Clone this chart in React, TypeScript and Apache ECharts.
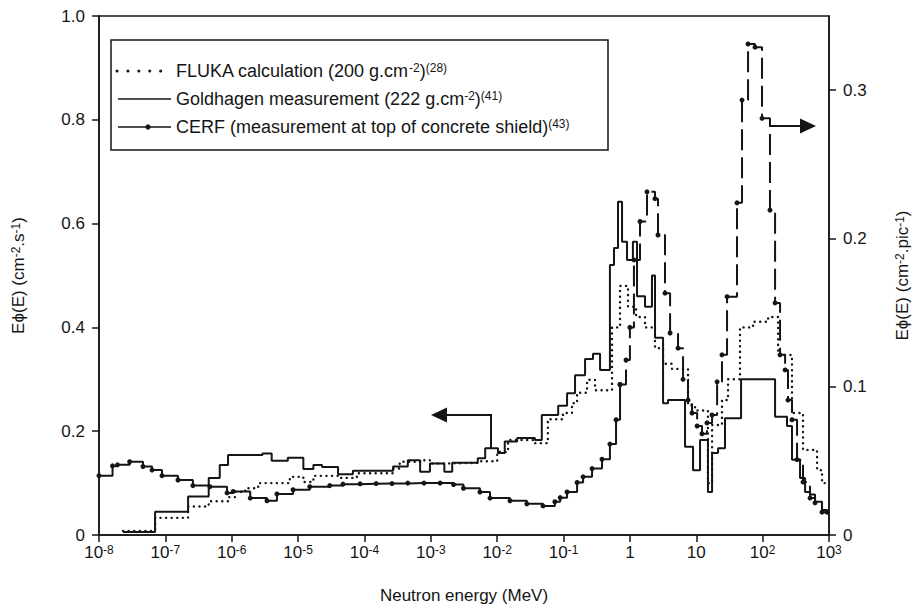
import React, { useEffect, useRef } from 'react';
import * as echarts from 'echarts';

// ---- axis ticks ----
const decades = [1e-8, 1e-7, 1e-6, 1e-5, 1e-4, 1e-3, 1e-2, 1e-1, 1, 10, 100, 1000];
const leftTicks = [0, 0.2, 0.4, 0.6, 0.8, 1.0];
const rightTicks = [0, 0.1, 0.2, 0.3];

// ---- FLUKA calculation (left axis), bin edges in MeV and bin values ----
const flukaEdges = [2.3e-8, 7.0e-8, 2.2e-7, 4.5e-7, 8.8e-7, 1.12e-6, 1.6e-6, 2.5e-6, 7.5e-6, 1.2e-5, 1.7e-5, 4.0e-5, 7.7e-5, 2.7e-4, 3.4e-4, 6.9e-4, 9.7e-4, 2.1e-3, 5.1e-3, 1.0e-2, 1.46e-2, 3.7e-2, 5.8e-2, 9.8e-2, 0.134, 0.16, 0.226, 0.298, 0.538, 0.71, 0.937, 1.24, 1.69, 2.39, 3.16, 4.31, 7.51, 9.58, 15.0, 17.3, 24.4, 30.1, 45.6, 71.7, 121, 171, 277, 406, 661, 785, 934];
const flukaValues = [0.008, 0.033, 0.055, 0.065, 0.073, 0.083, 0.09, 0.1, 0.112, 0.102, 0.114, 0.11, 0.119, 0.128, 0.141, 0.144, 0.138, 0.139, 0.142, 0.16, 0.183, 0.177, 0.223, 0.235, 0.254, 0.274, 0.299, 0.279, 0.4, 0.48, 0.44, 0.42, 0.4, 0.36, 0.33, 0.32, 0.25, 0.24, 0.1, 0.212, 0.26, 0.3, 0.4, 0.411, 0.42, 0.347, 0.235, 0.164, 0.125, 0.1];

// ---- Goldhagen measurement (left axis) ----
const goldEdges = [2.3e-8, 7.0e-8, 2.2e-7, 4.5e-7, 6.6e-7, 8.8e-7, 2.9e-6, 4.0e-6, 7.0e-6, 1.2e-5, 1.7e-5, 2.3e-5, 4.0e-5, 6.7e-5, 2.7e-4, 4.5e-4, 6.9e-4, 9.7e-4, 1.6e-3, 2.1e-3, 5.1e-3, 6.6e-3, 1.03e-2, 1.3e-2, 2.0e-2, 3.7e-2, 4.7e-2, 8.3e-2, 0.113, 0.149, 0.211, 0.278, 0.355, 0.5, 0.576, 0.662, 0.761, 0.905, 1.11, 1.28, 1.69, 2.15, 2.39, 3.16, 3.75, 6.77, 8.94, 11.4, 15.0, 17.3, 21.3, 27.1, 47.3, 154, 233, 277, 366, 436, 518, 616, 785, 934, 1000];
const goldValues = [0.006, 0.045, 0.074, 0.11, 0.135, 0.154, 0.157, 0.143, 0.149, 0.127, 0.135, 0.131, 0.117, 0.124, 0.132, 0.144, 0.122, 0.138, 0.122, 0.139, 0.148, 0.167, 0.158, 0.18, 0.187, 0.183, 0.231, 0.249, 0.273, 0.308, 0.339, 0.349, 0.318, 0.52, 0.553, 0.642, 0.565, 0.53, 0.565, 0.46, 0.44, 0.5, 0.38, 0.254, 0.26, 0.17, 0.125, 0.183, 0.083, 0.158, 0.167, 0.225, 0.3, 0.228, 0.21, 0.145, 0.11, 0.083, 0.078, 0.064, 0.048, 0.042];

// ---- CERF (right axis, cm-2.pic-1) ----
const cerfEdges = [1.0e-8, 1.6e-8, 1.9e-8, 2.9e-8, 4.6e-8, 6.3e-8, 8.9e-8, 1.55e-7, 2.6e-7, 4.7e-7, 8.5e-7, 1.05e-6, 1.9e-6, 3.4e-6, 4.8e-6, 8.4e-6, 1.5e-5, 3.0e-5, 4.75e-5, 8.6e-5, 1.5e-4, 2.6e-4, 4.5e-4, 7.9e-4, 1.38e-3, 2.2e-3, 3.1e-3, 5.5e-3, 7.8e-3, 1.56e-2, 2.8e-2, 4.9e-2, 7.4e-2, 8.9e-2, 0.113, 0.16, 0.197, 0.269, 0.38, 0.5, 0.618, 0.71, 0.874, 1.0, 1.15, 1.42, 1.81, 2.39, 2.65, 3.38, 4.03, 5.31, 6.32, 7.51, 8.63, 10.3, 12.2, 14.5, 17.3, 20.6, 24.4, 29.1, 41.1, 48.9, 60.3, 76.8, 97.9, 129, 154, 183, 218, 241, 277, 330, 406, 518, 616, 785, 934];
const cerfValues = [0.04, 0.0466, 0.0473, 0.0494, 0.0462, 0.0438, 0.04, 0.0371, 0.0333, 0.0326, 0.0284, 0.0294, 0.0249, 0.0231, 0.0277, 0.0305, 0.0326, 0.0333, 0.0343, 0.0345, 0.0347, 0.0347, 0.035, 0.035, 0.035, 0.034, 0.0315, 0.029, 0.0249, 0.0231, 0.021, 0.0196, 0.0224, 0.0252, 0.029, 0.0354, 0.0392, 0.0448, 0.0511, 0.0613, 0.0777, 0.1015, 0.118, 0.14, 0.1855, 0.2114, 0.2314, 0.2268, 0.2023, 0.1631, 0.1362, 0.126, 0.105, 0.091, 0.0823, 0.0735, 0.0683, 0.0756, 0.0809, 0.1033, 0.1215, 0.1607, 0.224, 0.2933, 0.3311, 0.329, 0.281, 0.2191, 0.1565, 0.1215, 0.1113, 0.091, 0.0777, 0.0508, 0.0357, 0.0249, 0.0217, 0.0154];
// above this energy the CERF trace is drawn dashed in the figure
const cerfDashedFrom = 0.7;

const FONT = "'Liberation Sans', Arial, Helvetica, sans-serif";
const INK = '#151515';

function steps(edges: number[], values: number[]) {
  const n = Math.min(values.length, edges.length - 1);
  const pts: number[][] = [];
  for (let i = 0; i < n; i++) pts.push([edges[i], values[i]]);
  pts.push([edges[n], values[n - 1]]);
  return pts;
}

export default function App() {
  const ref = useRef<HTMLDivElement>(null);
  useEffect(() => {
    document.body.style.margin = '0';
    const chart = echarts.init(ref.current!, null, { renderer: 'svg' });
    const sup = { fontSize: 12, verticalAlign: 'top', lineHeight: 12, fontFamily: FONT, color: INK };
    const supG = { fontSize: 12, verticalAlign: 'top', lineHeight: 12, fontFamily: FONT, fill: INK };
    const legendRows = [
      { y: 71, text: 'FLUKA calculation (200 g.cm{sup|-2}){sup|(28)}' },
      { y: 99, text: 'Goldhagen measurement (222 g.cm{sup|-2}){sup|(41)}' },
      { y: 127, text: 'CERF (measurement at top of concrete shield){sup|(43)}' },
    ];
    const cerfPts = steps(cerfEdges, cerfValues);
    let k = cerfPts.findIndex((p) => p[0] >= cerfDashedFrom);
    if (k < 0) k = cerfPts.length - 1;
    const cerfSeries = (data: number[][], dashed: boolean) => ({
      name: 'CERF (measurement at top of concrete shield)',
      type: 'line',
      step: 'end',
      yAxisIndex: 1,
      data,
      symbol: 'circle',
      symbolSize: 5,
      showSymbol: true,
      itemStyle: { color: INK, borderWidth: 0 },
      lineStyle: { color: INK, width: 2, type: dashed ? [21, 7] : 'solid' },
      z: 4,
    });
    const axisLabelBase = { fontFamily: FONT, fontSize: 17, color: INK };
    chart.setOption({
      animation: false,
      backgroundColor: '#ffffff',
      grid: { left: 99, right: 90, top: 16, bottom: 75, show: true, borderColor: INK, borderWidth: 1.5 },
      xAxis: {
        type: 'log',
        logBase: 10,
        min: 1e-8,
        max: 1e3,
        splitNumber: 11,
        name: 'Neutron energy (MeV)',
        nameLocation: 'middle',
        nameGap: 52,
        nameTextStyle: { fontFamily: FONT, fontSize: 17, color: INK },
        axisLine: { lineStyle: { color: INK, width: 1.5 } },
        axisTick: { show: true, length: 7, lineStyle: { color: INK, width: 1.5 }, customValues: decades },
        minorTick: { show: false },
        splitLine: { show: false },
        axisLabel: {
          ...axisLabelBase,
          customValues: decades,
          margin: 9,
          formatter: (v: number) => {
            const e = Math.round(Math.log10(v));
            if (e === 0) return '1';
            if (e === 1) return '10';
            return '10{sup|' + e + '}';
          },
          rich: { sup },
        },
      },
      yAxis: [
        {
          type: 'value',
          position: 'left',
          min: 0,
          max: 1,
          interval: 0.2,
          name: 'E\u03d5(E) (cm{sup|-2}.s{sup|-1})',
          nameLocation: 'middle',
          nameRotate: 90,
          nameGap: 72,
          nameTextStyle: { fontFamily: FONT, fontSize: 17, color: INK, rich: { sup } },
          axisLine: { show: true, lineStyle: { color: INK, width: 1.5 } },
          axisTick: { show: true, length: 7, lineStyle: { color: INK, width: 1.5 }, customValues: leftTicks },
          splitLine: { show: false },
          axisLabel: {
            ...axisLabelBase,
            customValues: leftTicks,
            margin: 14,
            formatter: (v: number) => (v === 0 ? '0' : v.toFixed(1)),
          },
        },
        {
          type: 'value',
          position: 'right',
          min: 0,
          max: 0.35,
          name: 'E\u03d5(E) (cm{sup|-2}.pic{sup|-1})',
          nameLocation: 'middle',
          nameRotate: 90,
          nameGap: 65,
          nameTextStyle: { fontFamily: FONT, fontSize: 17, color: INK, rich: { sup } },
          axisLine: { show: true, lineStyle: { color: INK, width: 1.5 } },
          axisTick: { show: true, length: 7, lineStyle: { color: INK, width: 1.5 }, customValues: rightTicks },
          splitLine: { show: false },
          axisLabel: {
            ...axisLabelBase,
            customValues: rightTicks,
            margin: 14,
            formatter: (v: number) => (v === 0 ? '0' : v.toFixed(1)),
          },
        },
      ],
      series: [
        {
          name: 'FLUKA calculation (200 g.cm-2)',
          type: 'line',
          step: 'end',
          yAxisIndex: 0,
          data: steps(flukaEdges, flukaValues),
          symbol: 'none',
          lineStyle: { color: INK, width: 2.4, type: [0.1, 5.5], cap: 'round' },
          z: 2,
        },
        {
          name: 'Goldhagen measurement (222 g.cm-2)',
          type: 'line',
          step: 'end',
          yAxisIndex: 0,
          data: steps(goldEdges, goldValues),
          symbol: 'none',
          lineStyle: { color: INK, width: 2 },
          z: 3,
        },
        cerfSeries(cerfPts.slice(0, k + 1), false),
        cerfSeries(cerfPts.slice(k), true),
      ],
      graphic: [
        { type: 'rect', silent: true, shape: { x: 111, y: 40, width: 497, height: 110 }, style: { fill: 'none', stroke: INK, lineWidth: 1.5 } },
        { type: 'line', silent: true, shape: { x1: 117, y1: 71, x2: 171, y2: 71 }, style: { stroke: INK, lineWidth: 3, lineDash: [0.1, 10.8], lineCap: 'round' } },
        { type: 'line', silent: true, shape: { x1: 118, y1: 99, x2: 171, y2: 99 }, style: { stroke: INK, lineWidth: 1.6 } },
        { type: 'line', silent: true, shape: { x1: 118, y1: 127, x2: 171, y2: 127 }, style: { stroke: INK, lineWidth: 1.6 } },
        { type: 'circle', silent: true, shape: { cx: 148, cy: 127, r: 2.6 }, style: { fill: INK } },
        ...legendRows.map((r) => ({
          type: 'text',
          silent: true,
          x: 176,
          y: r.y,
          style: {
            text: r.text,
            fontFamily: FONT,
            fontSize: 18,
            fill: INK,
            verticalAlign: 'middle',
            rich: { sup: supG },
          },
        })),
        // left-pointing arrow (Goldhagen/FLUKA -> left axis)
        { type: 'polyline', silent: true, shape: { points: [[491, 448], [491, 415], [446, 415]] }, style: { stroke: INK, lineWidth: 2, fill: 'none' } },
        { type: 'polygon', silent: true, shape: { points: [[447, 407.5], [447, 422.5], [431, 415]] }, style: { fill: INK } },
        // right-pointing arrow (CERF -> right axis)
        { type: 'line', silent: true, shape: { x1: 770, y1: 126, x2: 801, y2: 126 }, style: { stroke: INK, lineWidth: 2 } },
        { type: 'polygon', silent: true, shape: { points: [[800, 118.5], [800, 133.5], [816, 126]] }, style: { fill: INK } },
      ],
    });
    return () => chart.dispose();
  }, []);
  return <div ref={ref} style={{ width: 919, height: 610 }} />;
}
